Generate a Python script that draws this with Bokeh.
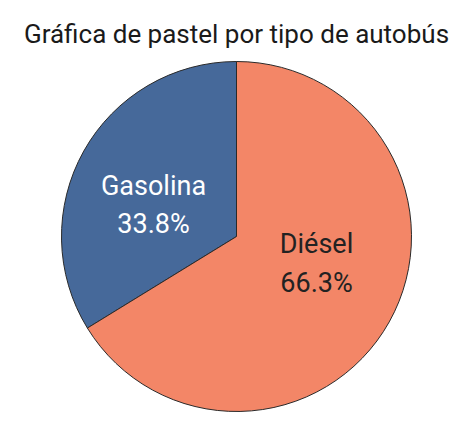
import math
from bokeh.plotting import figure
from bokeh.models import Range1d, ColumnDataSource
from bokeh.core.properties import value
from bokeh.embed import file_html
from bokeh.resources import INLINE

title_text = "Gráfica de pastel por tipo de autobús"
categories = ["Gasolina", "Diésel"]
percents = [33.8, 66.3]
colors = ["#46699a", "#f38667"]
text_colors = ["#ffffff", "#222222"]

W, H = 456, 420
FONT = "Roboto"

p = figure(width=W, height=H, output_backend="svg", toolbar_location=None,
           x_range=Range1d(0, W), y_range=Range1d(0, H), min_border=0)
p.axis.visible = False
p.grid.visible = False
p.outline_line_color = None
p.background_fill_color = "white"

def px(x):
    return x

def py(y):
    return H - y

cx, cy, r = px(236), py(236), 175
total = sum(percents)
starts, ends = [], []
a = math.pi / 2
for v in percents:
    span = v / total * 2 * math.pi
    starts.append(a)
    ends.append(a + span)
    a += span

src = ColumnDataSource(dict(start=starts, end=ends, color=colors, cat=categories))
p.wedge(x=cx, y=cy, radius=r, start_angle="start", end_angle="end",
        fill_color="color", line_color="#2a2a2a", line_width=1, source=src)

lab_x = [px(153), px(316)]
name_y = [py(185), py(243)]
pct_y = [py(223), py(282)]
lsrc = ColumnDataSource(dict(x=lab_x, ny=name_y, py_=pct_y, name=categories,
                             pct=[f"{v}%" for v in percents], tc=text_colors))
p.text(x="x", y="ny", text="name", text_color="tc", source=lsrc,
       text_font=value(FONT), text_font_size="27px", text_align="center",
       text_baseline="alphabetic")
p.text(x="x", y="py_", text="pct", text_color="tc", source=lsrc,
       text_font=value(FONT), text_font_size="27px", text_align="center",
       text_baseline="alphabetic")

p.text(x=[px(236)], y=[py(33)], text=[title_text], text_color="#1a1a1a",
       text_font=value(FONT), text_font_size="26px", text_align="center",
       text_baseline="alphabetic")

open("out.html", "w").write(file_html(p, INLINE))
